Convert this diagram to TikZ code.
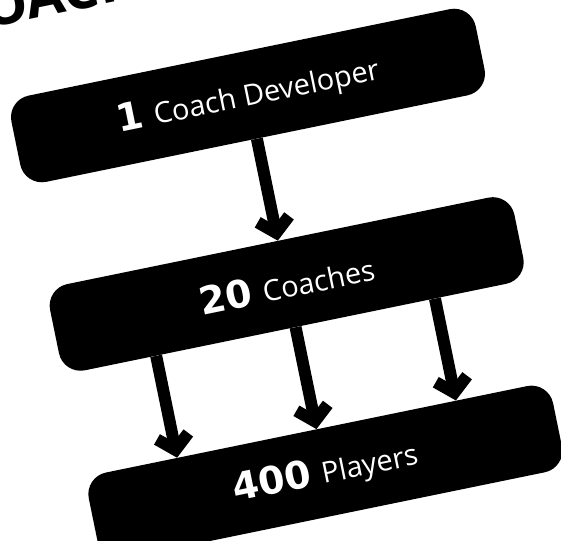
\documentclass[tikz,border=0pt]{standalone}
\usepackage{fontspec}
\setmainfont{Open Sans}
\newfontfamily\numfont{DejaVu Sans}
\usetikzlibrary{arrows.meta, positioning, calc}

\newcommand{\bignum}[1]{{\numfont\fontsize{38}{40}\selectfont\bfseries #1}\hspace{11pt}}

\begin{document}
\begin{tikzpicture}[
    x=1pt, y=1pt,
    node distance=104pt,
    box/.style={rectangle, fill=black, rounded corners=22pt, align=center, minimum width=474pt, minimum height=88pt, text=white, font=\fontsize{29}{32}\selectfont},
    arrow/.style={-{Straight Barb[length=14pt, width=32pt]}, line width=12pt}
]
\useasboundingbox (0,0) rectangle (561,-540);

\node[anchor=base west, rotate=11.6, font=\fontsize{56}{60}\selectfont\bfseries] (title) at (-50,-36) {COACHING};

\begin{scope}[shift={(248,-95.5)}, rotate=11.6, transform shape]
\node[box] (dev) at (0,0) {\bignum{1}Coach Developer};
\node[box, below=of dev] (coaches) {\bignum{20}Coaches};
\node[box, below=of coaches] (players) {\bignum{400}Players};

\draw[arrow] (dev.south) -- (coaches.north);
\draw[arrow] ($(coaches.south west)!0.2!(coaches.south east)$) -- ($(players.north west)!0.2!(players.north east)$);
\draw[arrow] (coaches.south) -- (players.north);
\draw[arrow] ($(coaches.south west)!0.8!(coaches.south east)$) -- ($(players.north west)!0.8!(players.north east)$);
\end{scope}
\end{tikzpicture}
\end{document}
